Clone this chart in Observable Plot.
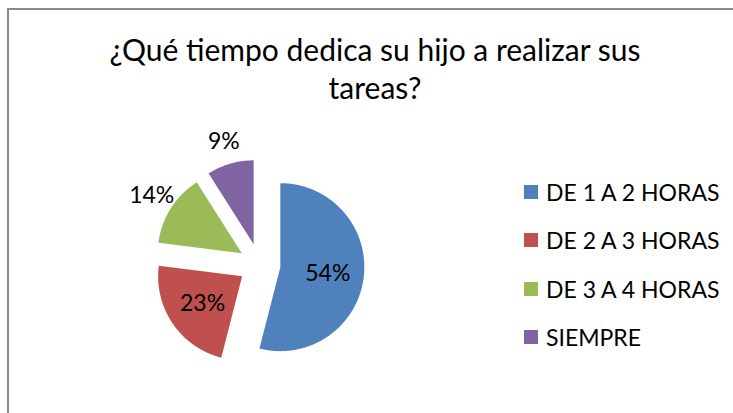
<!DOCTYPE html>
<html>
<head>
<meta charset="utf-8">
<script src="https://cdn.jsdelivr.net/npm/d3@7"></script>
<script src="https://cdn.jsdelivr.net/npm/@observablehq/plot@0.6"></script>
<style>
  html, body { margin: 0; padding: 0; background: #fff; overflow: hidden; }
  #wrap { position: relative; width: 733px; height: 413px; overflow: hidden; font-family: Lato, "Open Sans", sans-serif; }
  #frame { position: absolute; left: 7px; top: 8px; width: 900px; height: 600px; border-left: 2px solid #8a8a8a; border-top: 2px solid #8a8a8a; }
  #title { position: absolute; left: 60px; width: 630px; top: 30px; text-align: center; font-size: 30px; line-height: 38px; color: #000; }
  #chart { position: absolute; left: 0; top: 0; }
  #legend { position: absolute; left: 524px; top: 168px; }
  .item { display: flex; align-items: center; height: 48.3px; font-size: 23px; color: #000; }
  .sw { width: 14px; height: 14px; margin-right: 8px; }
</style>
</head>
<body>
<div id="wrap">
  <div id="frame"></div>
  <div id="chart"></div>
  <div id="title">¿Qué tiempo dedica su hijo a realizar sus<br>tareas?</div>
  <div id="legend"></div>
</div>
<script>
const categories = ["DE 1 A 2 HORAS", "DE 2 A 3 HORAS", "DE 3 A 4 HORAS", "SIEMPRE"];
const values = [54, 23, 14, 9];
const labels = ["54%", "23%", "14%", "9%"];
const colors = ["#4F81BD", "#C0504D", "#9BBB59", "#8064A2"];

const W = 733, H = 413;
const cx = 259, cy = 264, R = 84;   // pie center / radius in pixels (layout)
const explode = 0.25;               // in radius units

const total = d3.sum(values);
let acc = 0;
const slices = values.map((v, i) => {
  const a0 = acc / total * 2 * Math.PI;
  acc += v;
  const a1 = acc / total * 2 * Math.PI;
  const mid = (a0 + a1) / 2;
  const ox = explode * Math.sin(mid), oy = explode * Math.cos(mid);
  return {cat: categories[i], label: labels[i], v, a0, a1, mid, ox, oy};
});

const pts = [];
for (const s of slices) {
  pts.push({cat: s.cat, x: s.ox, y: s.oy});
  const n = Math.max(2, Math.ceil((s.a1 - s.a0) / (Math.PI / 360)));
  for (let k = 0; k <= n; k++) {
    const a = s.a0 + (s.a1 - s.a0) * k / n;
    pts.push({cat: s.cat, x: s.ox + Math.sin(a), y: s.oy + Math.cos(a)});
  }
  pts.push({cat: s.cat, x: s.ox, y: s.oy});
}

const labs = slices.map(s => {
  const inside = s.v / total >= 0.2;
  const rr = inside ? 0.57 : 1.27;
  return {label: s.label, x: s.ox + rr * Math.sin(s.mid), y: s.oy + rr * Math.cos(s.mid)};
});

const plot = Plot.plot({
  width: W, height: H,
  margin: 0,
  x: {domain: [-cx / R, (W - cx) / R], range: [0, W], axis: null},
  y: {domain: [-(H - cy) / R, cy / R], range: [H, 0], axis: null},
  color: {domain: categories, range: colors},
  style: {background: "transparent", fontFamily: "Lato, 'Open Sans', sans-serif"},
  marks: [
    Plot.line(pts, {x: "x", y: "y", z: "cat", fill: "cat", stroke: "none", curve: "linear"}),
    Plot.text(labs, {x: "x", y: "y", text: "label", fontSize: 23, fill: "#000", textAnchor: "middle"})
  ]
});
document.getElementById("chart").appendChild(plot);

const leg = document.getElementById("legend");
categories.forEach((c, i) => {
  const d = document.createElement("div");
  d.className = "item";
  d.innerHTML = `<span class="sw" style="background:${colors[i]}"></span><span>${c}</span>`;
  leg.appendChild(d);
});
</script>
</body>
</html>
